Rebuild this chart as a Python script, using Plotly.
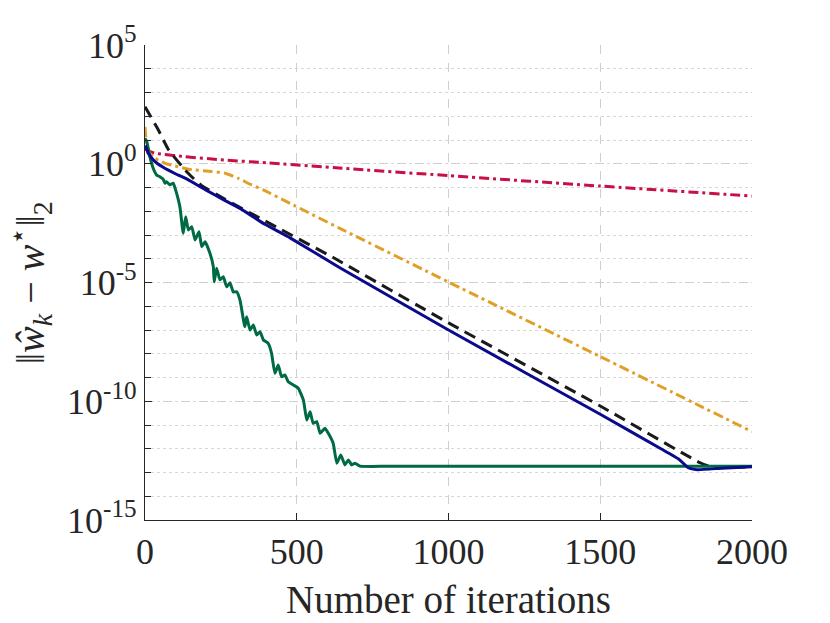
import numpy as np
import plotly.graph_objects as go

# values, stored as log10 of the error
red_it = [0, 30, 130, 260, 400, 650, 1000, 1500, 2000]
red_log = [0.62, 0.45, 0.30, 0.16, 0.04, -0.19, -0.50, -0.94, -1.36]

yellow_it = [0, 3, 6, 16, 33, 66, 99, 143, 220, 264, 307, 351, 390, 478, 642, 1000, 1500, 2000]
yellow_log = [1.55, 1.1, 0.80, 0.44, 0.23, 0.02, -0.09, -0.23, -0.33, -0.40, -0.61, -0.89, -1.10,
              -1.67, -2.72, -4.98, -8.12, -11.28]

black_it = [0, 44, 77, 132, 160, 187, 264, 390, 620, 1000, 1500, 1829, 1870, 2000]
black_log = [2.40, 1.42, 0.60, -0.26, -0.62, -0.92, -1.50, -2.37, -3.95, -6.70, -10.20, -12.59,
             -12.78, -12.76]

blue_it = [0, 3, 10, 30, 60, 100, 140, 200, 264, 313, 395, 478, 642, 1000, 1500, 1700, 1760,
           1790, 1820, 1900, 2000]
blue_log = [0.75, 0.72, 0.45, 0.12, -0.15, -0.42, -0.66, -1.10, -1.55, -1.88, -2.55, -3.12,
            -4.38, -7.00, -10.55, -12.00, -12.45, -12.80, -12.88, -12.82, -12.76]

green_it = [0, 6, 16, 27, 38, 49, 60, 66, 71, 82, 93, 104, 115, 126, 134, 143, 154, 165, 178,
            187, 198, 214, 225, 228, 236, 247, 258, 269, 280, 291, 302, 313, 329, 335, 346, 357,
            368, 379, 390, 406, 417, 428, 439, 450, 461, 472, 489, 505, 522, 533, 544, 554, 566,
            577, 593, 604, 620, 632, 645, 659, 670, 681, 692, 708, 800, 2000]
green_log = [1.08, 0.93, 0.30, -0.19, -0.47, -0.55, -0.65, -0.82, -0.76, -0.89, -0.82, -1.24,
             -1.81, -2.93, -2.23, -2.79, -2.65, -3.21, -2.86, -3.49, -3.28, -3.77, -4.33, -4.97,
             -4.40, -4.89, -4.76, -5.18, -5.01, -5.40, -5.39, -5.74, -6.86, -6.44, -7.00, -6.79,
             -7.21, -7.07, -7.42, -7.56, -7.98, -8.82, -8.47, -8.97, -8.89, -9.18, -9.32, -9.45,
             -9.95, -10.79, -10.44, -10.93, -10.86, -11.35, -11.14, -11.35, -11.77, -12.61,
             -12.26, -12.68, -12.47, -12.68, -12.61, -12.73, -12.74, -12.74]

y_exps = [5, 0, -5, -10, -15]
y_ticktext = ["10<sup>5</sup>", "10<sup>0</sup>", "10<sup>-5</sup>", "10<sup>-10</sup>", "10<sup>-15</sup>"]
x_ticks = [0, 500, 1000, 1500, 2000]

series = [
    (red_it, red_log, "#C80F46", "10px,4px,3px,4px"),
    (yellow_it, yellow_log, "#E0A028", "10px,4px,3px,4px"),
    (black_it, black_log, "#1A1A1A", "12px,7px"),
    (green_it, green_log, "#006A43", "solid"),
    (blue_it, blue_log, "#0A0A8C", "solid"),
]

fig = go.Figure()
for it, lg, col, dash in series:
    fig.add_trace(go.Scatter(x=it, y=10.0 ** np.array(lg), mode="lines",
                             line=dict(color=col, width=3, dash=dash, shape="spline", smoothing=0.4),
                             showlegend=False))

# the page body has an 8px margin, so the figure is a little smaller and shifted
font = "Liberation Serif, DejaVu Serif, serif"
fig.update_layout(
    width=822, height=615,
    margin=dict(l=137, r=78, t=37, b=103),
    paper_bgcolor="white", plot_bgcolor="white",
    font=dict(family=font, size=36, color="#262626"),
)
fig.update_xaxes(
    range=[0, 2000], tickvals=x_ticks, automargin=False,
    showline=True, linecolor="#262626", linewidth=1.2,
    ticks="inside", ticklen=7, tickcolor="#262626",
    tickfont=dict(family=font, size=36),
    showgrid=True, gridcolor="#CFCFCF", griddash="dash", gridwidth=1,
    zeroline=False,
)
fig.update_yaxes(
    type="log", range=[-15, 5], automargin=False,
    tickvals=[10.0 ** e for e in y_exps], ticktext=y_ticktext,
    showline=True, linecolor="#262626", linewidth=1.2,
    ticks="inside", ticklen=7, tickcolor="#262626",
    tickfont=dict(family=font, size=36),
    showgrid=True, gridcolor="#CFCFCF", griddash="dash", gridwidth=1,
    minor=dict(tickvals=[10.0 ** k for k in range(-15, 6)], ticks="inside", ticklen=6,
               tickcolor="#262626", showgrid=True, gridcolor="#D8D8D8", griddash="dot"),
    zeroline=False,
)

# axis titles as annotations so they sit where the reference has them
fig.add_annotation(text="Number of iterations", xref="paper", yref="paper",
                   x=0.5, y=-0.168, xanchor="center", yanchor="middle",
                   showarrow=False, font=dict(family=font, size=39))
fig.add_annotation(text="‖<i>ŵ</i><sub><i>k</i></sub> − <i>w</i><sup>⋆</sup>‖<sub>2</sub>",
                   xref="paper", yref="paper", x=-0.19, y=0.5, textangle=-90,
                   xanchor="center", yanchor="middle", showarrow=False,
                   font=dict(family=font, size=40))

fig.write_html("out.html")
